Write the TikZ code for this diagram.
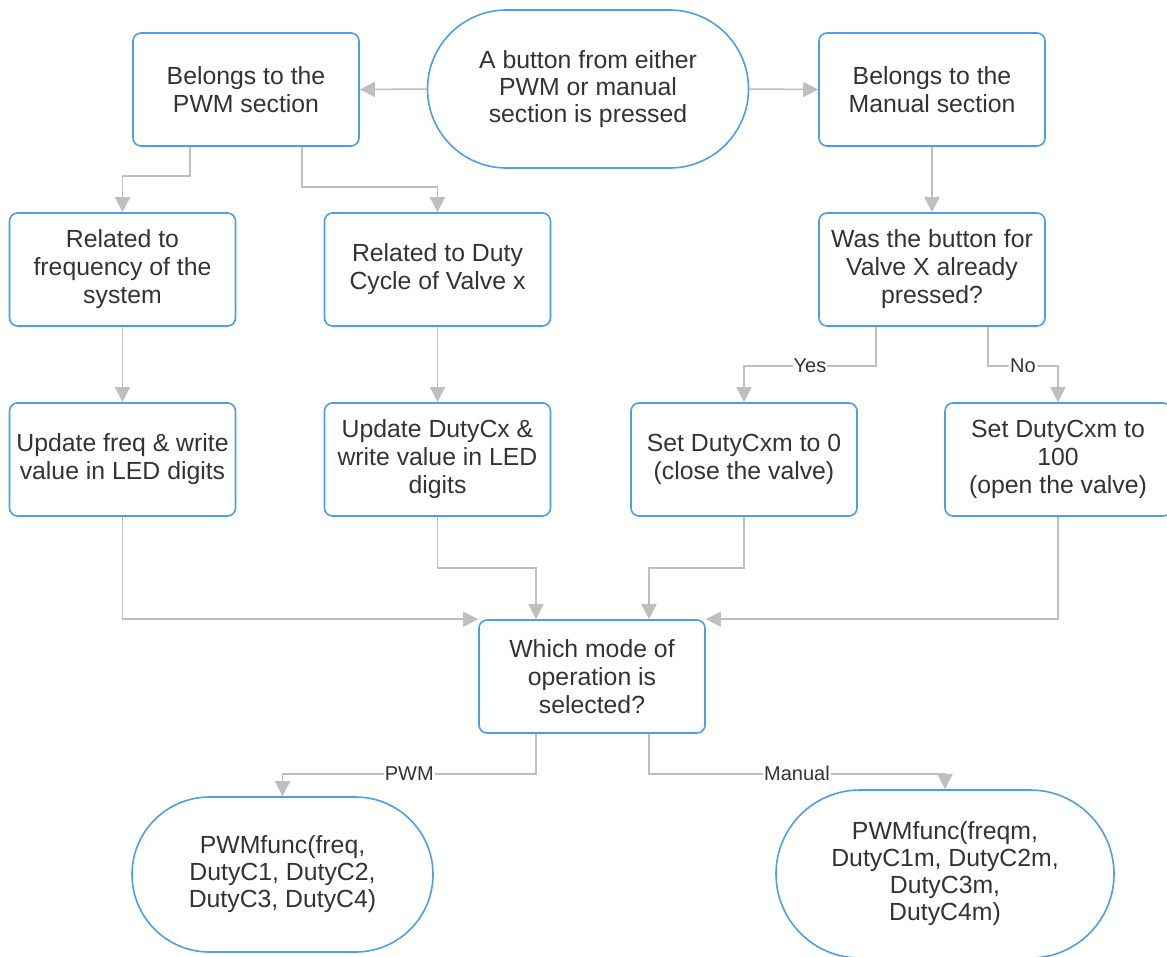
\documentclass[tikz,border=0pt]{standalone}
\usepackage{fontspec}
\setmainfont{Liberation Sans}
\usetikzlibrary{arrows.meta,shapes.misc}
\definecolor{boxblue}{HTML}{4A9FE8}
\definecolor{wire}{HTML}{BFBFBF}
\definecolor{ink}{HTML}{333333}
\begin{document}
\begin{tikzpicture}[x=1pt,y=-1pt,
  stepbox/.style={draw=boxblue, line width=1.6pt, rounded corners=8pt,
    minimum width=226pt, minimum height=113pt, align=center, text=ink,
    inner sep=0pt, font=\fontsize{24.8}{28}\selectfont},
  terminal/.style={draw=boxblue, line width=1.6pt, rounded rectangle,
    align=center, text=ink, inner sep=0pt, font=\fontsize{24.8}{27}\selectfont},
  flow/.style={draw=wire, line width=1.5pt, -{Triangle[length=15pt,width=15pt]}},
  edgelabel/.style={fill=white, text=ink, font=\fontsize{20}{24}\selectfont, inner sep=1pt}]
\useasboundingbox (0,0) rectangle (1167,956);

% nodes
\node[terminal, minimum width=321pt, minimum height=158pt] (start) at (588,89)
  {A button from either\\PWM or manual\\section is pressed};
\node[stepbox] (pwm) at (246,89.5) {Belongs to the\\PWM section};
\node[stepbox] (man) at (932,89.5) {Belongs to the\\Manual section};
\node[stepbox] (freq) at (122.5,269.5) {Related to\\frequency of the\\system};
\node[stepbox] (duty) at (437.5,269.5) {Related to Duty\\Cycle of Valve x};
\node[stepbox] (was) at (932,269.5) {Was the button for\\Valve X already\\pressed?};
\node[stepbox] (updf) at (122.5,459.5) {Update freq \& write\\value in LED digits};
\node[stepbox] (updd) at (437.5,459.5) {Update DutyCx \&\\write value in LED\\digits};
\node[stepbox] (close) at (744,459.5) {Set DutyCxm to 0\\(close the valve)};
\node[stepbox] (open) at (1058,459.5) {Set DutyCxm to\\100\\(open the valve)};
\node[stepbox] (mode) at (592,676.5) {Which mode of\\operation is\\selected?};
\node[terminal, minimum width=301pt, minimum height=155pt] (pwmf) at (282.5,874.5)
  {PWMfunc(freq,\\DutyC1, DutyC2,\\DutyC3, DutyC4)};
\node[terminal, minimum width=338pt, minimum height=168pt] (manf) at (945,874)
  {PWMfunc(freqm,\\DutyC1m, DutyC2m,\\DutyC3m,\\DutyC4m)};

% connectors
\draw[flow] (start.west) -- (pwm.east);
\draw[flow] (start.east) -- (man.west);
\draw[flow] ([xshift=-56pt]pwm.south) -- ++(0,29) -| (freq.north);
\draw[flow] ([xshift=56pt]pwm.south) -- ++(0,40) -| (duty.north);
\draw[flow] (man) -- (was);
\draw[flow] (freq) -- (updf);
\draw[flow] (duty) -- (updd);
\draw[flow] ([xshift=-56pt]was.south) -- ++(0,39) -| node[edgelabel, pos=0.25] {Yes} (close.north);
\draw[flow] ([xshift=56pt]was.south) -- ++(0,39) -| node[edgelabel, pos=0.25] {No} (open.north);
\draw[flow] (updf.south) |- (mode.north west);
\draw[flow] (updd.south) -- ++(0,51) -| ([xshift=-56pt]mode.north);
\draw[flow] (close.south) -- ++(0,51) -| ([xshift=57pt]mode.north);
\draw[flow] (open.south) |- (mode.north east);
\draw[flow] ([xshift=-56pt]mode.south) -- ++(0,40) -| node[edgelabel, pos=0.25] {PWM} (pwmf.north);
\draw[flow] ([xshift=57pt]mode.south) -- ++(0,40) -| node[edgelabel, pos=0.25] {Manual} (manf.north);
\end{tikzpicture}
\end{document}
